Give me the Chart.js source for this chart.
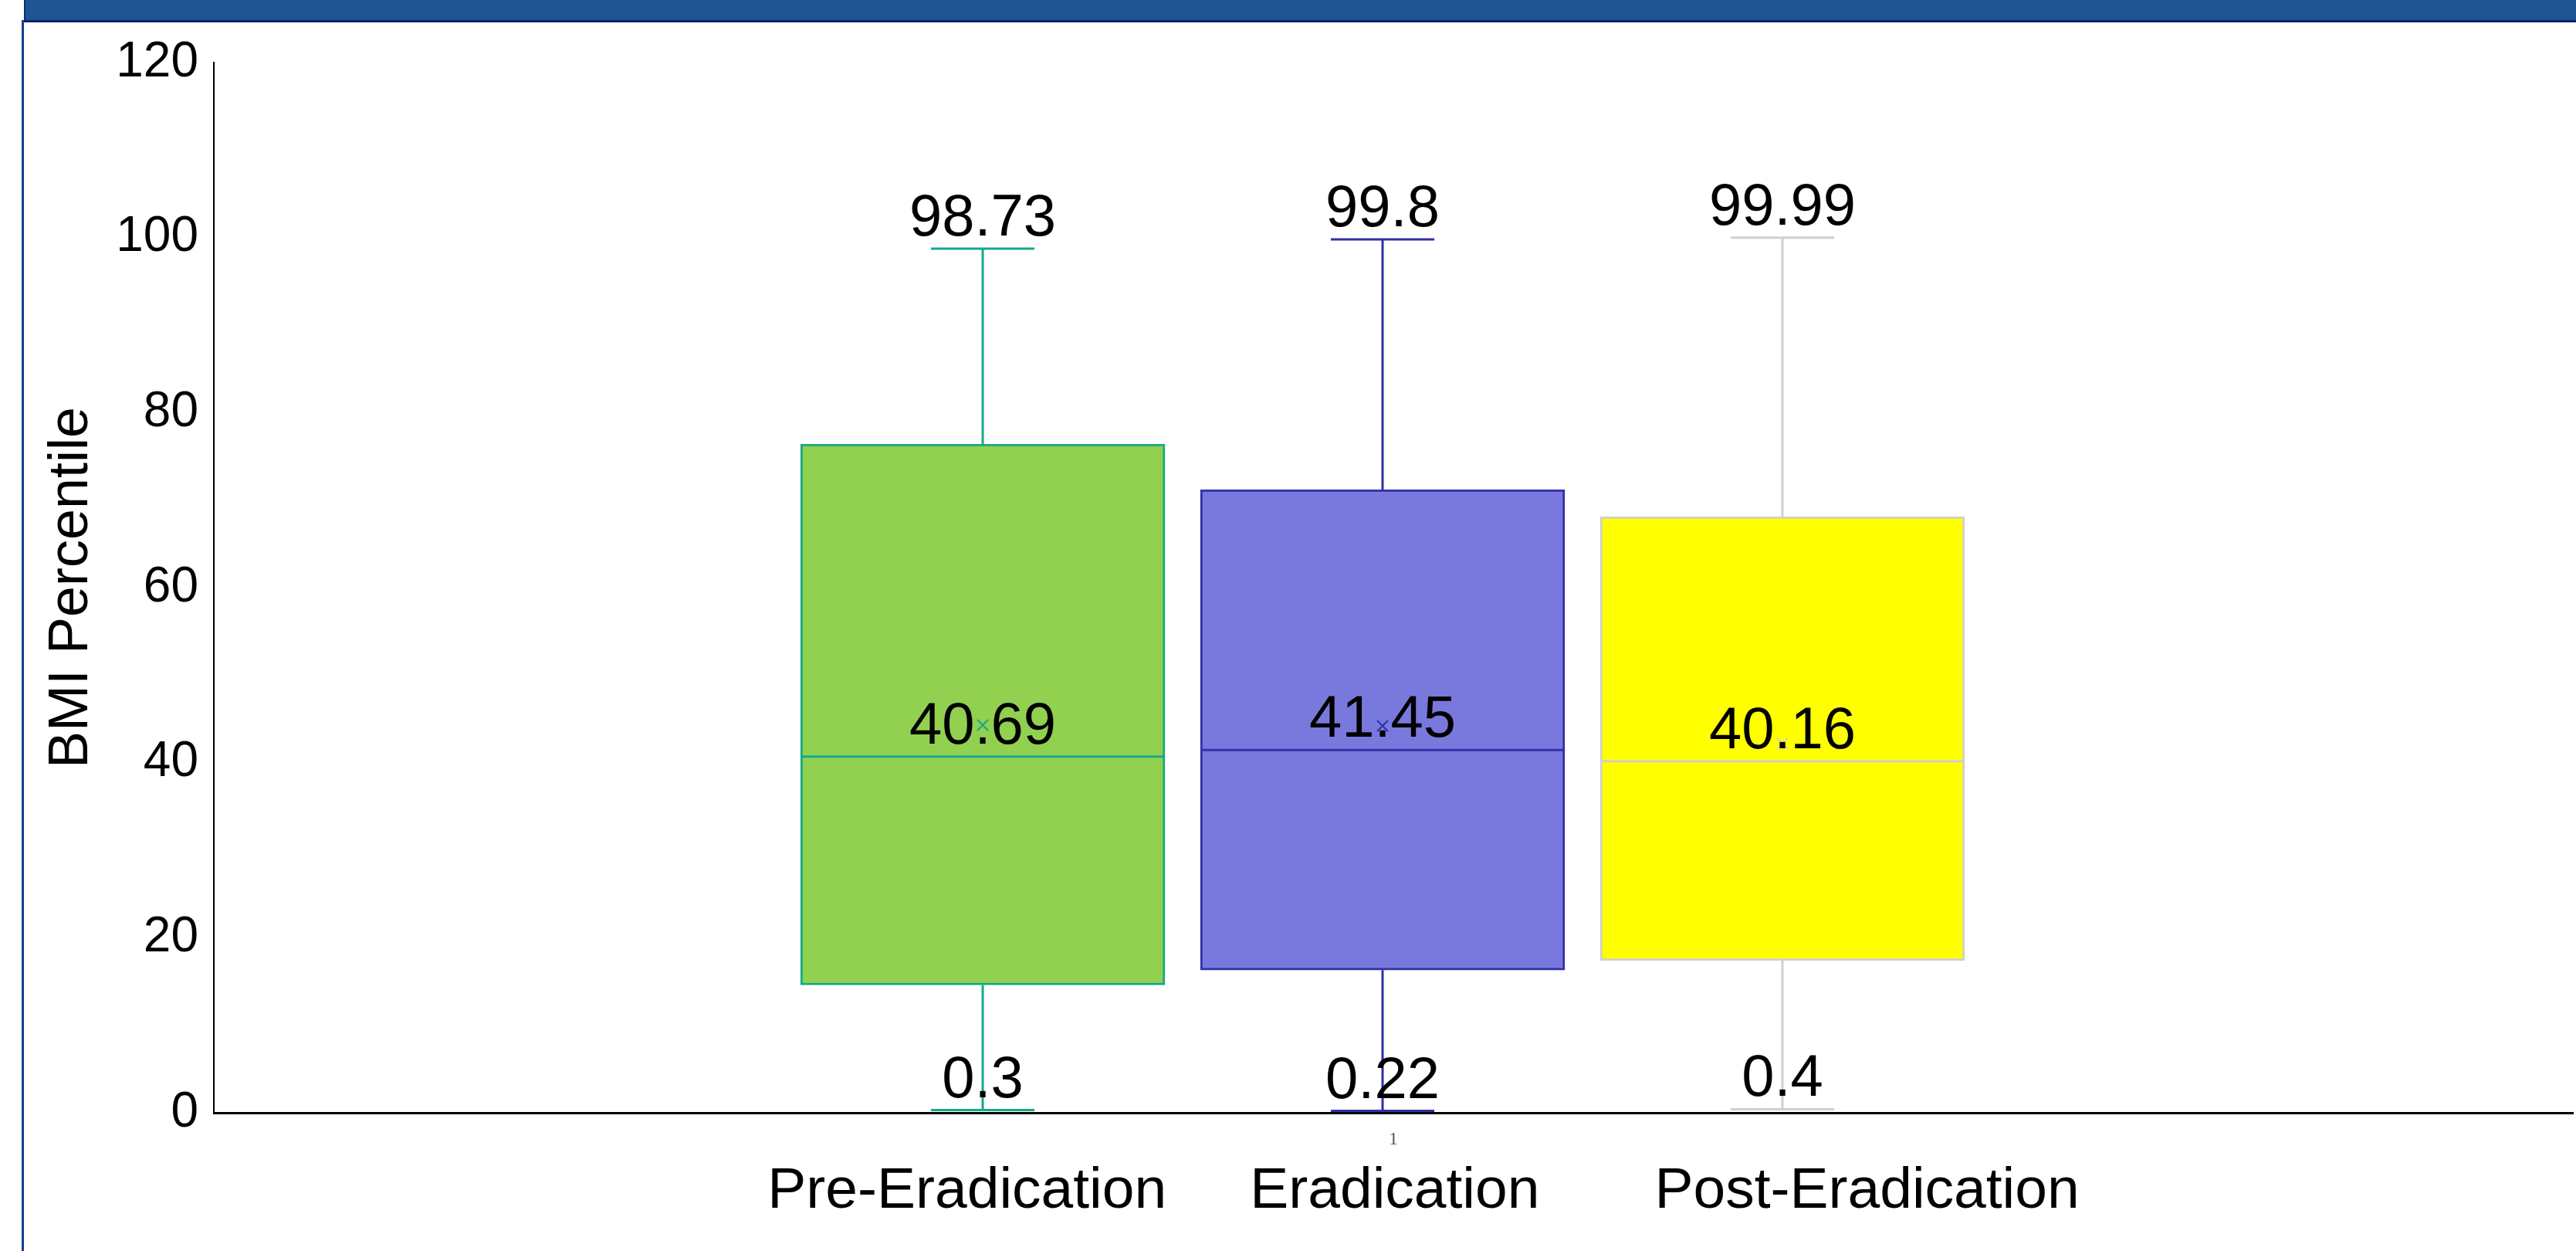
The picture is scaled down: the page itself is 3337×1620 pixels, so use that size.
<!DOCTYPE html>
<html>
<head>
<meta charset="utf-8">
<title>BMI Percentile</title>
<script src="https://cdn.jsdelivr.net/npm/chart.js@4.4.1/dist/chart.umd.min.js"></script>
<style>
  html, body { margin: 0; padding: 0; background: #ffffff; }
  #wrap { position: relative; width: 3337px; height: 1620px; overflow: hidden; background: #ffffff; }
  #chart { position: absolute; left: 0; top: 0; }
  .header { position: absolute; left: 31px; top: 0; width: 3306px; height: 26px; background: #1F5492; border-left: 2px solid #0E2C7A; }
  .header-rule { position: absolute; left: 28px; top: 26px; width: 3309px; height: 3px; background: #0B246C; }
  .side-rule { position: absolute; left: 28px; top: 26px; width: 3px; height: 1594px; background: #153C8C; }
</style>
</head>
<body>
<div id="wrap">
  <canvas id="chart" width="3337" height="1620"></canvas>
  <div class="header"></div>
  <div class="header-rule"></div>
  <div class="side-rule"></div>
</div>
<script>
// Series shown as box-and-whisker groups
const categories = ['Pre-Eradication', 'Eradication', 'Post-Eradication'];
const xLabels = ['1'];
const maxValues = [98.73, 99.8, 99.99];
const q3Values = [76.4, 71.2, 68.1];
const medianValues = [40.69, 41.45, 40.16];
const q1Values = [14.6, 16.3, 17.4];
const minValues = [0.3, 0.22, 0.4];
const meanValues = [44.3, 44.2, 42.2];
const yTicks = [0, 20, 40, 60, 80, 100, 120];

const fillColors = ['#92D050', '#7979DD', '#FFFF00'];
const lineColors = ['#13A98A', '#3030A8', '#CFCFCF'];

const FONT = "'Liberation Sans', Arial, sans-serif";

// Legend row under the axis: spacing after each entry and shift from the plot centre
const legendGaps = [108, 149];
const legendShift = 39;
const legendFontSize = 75;

// Whiskers, medians, mean markers and value labels on top of the floating bars
const boxPlotExtras = {
  id: 'boxPlotExtras',
  afterDatasetsDraw(chart) {
    const ctx = chart.ctx;
    const y = chart.scales.y;
    chart.data.datasets.forEach((ds, i) => {
      const meta = chart.getDatasetMeta(i);
      meta.data.forEach((bar) => {
        const cx = bar.x;
        const half = bar.width / 2;
        const capHalf = bar.width * 0.142;
        const pMax = y.getPixelForValue(maxValues[i]);
        const pQ3 = y.getPixelForValue(q3Values[i]);
        const pMed = y.getPixelForValue(medianValues[i]);
        const pQ1 = y.getPixelForValue(q1Values[i]);
        const pMin = y.getPixelForValue(minValues[i]);
        const pMean = y.getPixelForValue(meanValues[i]);

        ctx.save();
        ctx.strokeStyle = lineColors[i];
        ctx.lineWidth = 3;
        ctx.beginPath();
        // upper whisker and cap
        ctx.moveTo(cx, pQ3); ctx.lineTo(cx, pMax);
        ctx.moveTo(cx - capHalf, pMax); ctx.lineTo(cx + capHalf, pMax);
        // lower whisker and cap
        ctx.moveTo(cx, pQ1); ctx.lineTo(cx, pMin);
        ctx.moveTo(cx - capHalf, pMin); ctx.lineTo(cx + capHalf, pMin);
        // median
        ctx.moveTo(cx - half, pMed); ctx.lineTo(cx + half, pMed);
        ctx.stroke();

        // mean marker
        ctx.lineWidth = 2;
        const m = 7;
        ctx.beginPath();
        ctx.moveTo(cx - m, pMean - m); ctx.lineTo(cx + m, pMean + m);
        ctx.moveTo(cx + m, pMean - m); ctx.lineTo(cx - m, pMean + m);
        ctx.stroke();

        // value labels sit just above the value they state
        ctx.fillStyle = '#000000';
        ctx.font = '76px ' + FONT;
        ctx.textAlign = 'center';
        ctx.textBaseline = 'alphabetic';
        const gap = 17;
        ctx.fillText(String(maxValues[i]), cx, pMax - gap);
        ctx.fillText(String(medianValues[i]), cx, pMed - gap);
        ctx.fillText(String(minValues[i]), cx, pMin - gap);
        ctx.restore();
      });
    });
  }
};

// Series names written as a text-only row beneath the category axis
const textLegend = {
  id: 'textLegend',
  afterDraw(chart) {
    const ctx = chart.ctx;
    const area = chart.chartArea;
    const names = chart.data.datasets.map(ds => ds.label);
    ctx.save();
    ctx.font = legendFontSize + 'px ' + FONT;
    ctx.fillStyle = '#000000';
    ctx.textAlign = 'left';
    ctx.textBaseline = 'middle';
    const widths = names.map(n => ctx.measureText(n).width);
    const total = widths.reduce((a, b) => a + b, 0) + legendGaps.reduce((a, b) => a + b, 0);
    let x = (area.left + area.right) / 2 + legendShift - total / 2;
    const yText = chart.scales.x.bottom + 47;
    names.forEach((n, i) => {
      ctx.fillText(n, x, yText);
      x += widths[i] + (legendGaps[i] || 0);
    });
    ctx.restore();
  }
};

// each series sits in its own slot (-1, 0, 1) of the hidden group axis
const datasets = categories.map((name, i) => ({
  label: name,
  xAxisID: 'xb',
  data: [{ x: i - 1, y: [q1Values[i], q3Values[i]] }],
  backgroundColor: fillColors[i],
  borderColor: lineColors[i],
  borderWidth: 3,
  borderSkipped: false
}));

new Chart(document.getElementById('chart'), {
  type: 'bar',
  data: { labels: xLabels, datasets },
  plugins: [boxPlotExtras, textLegend],
  options: {
    responsive: false,
    devicePixelRatio: 1,
    animation: false,
    layout: { padding: { top: 81, right: 4, bottom: 124, left: 0 } },
    datasets: { bar: { grouped: false, barThickness: 472 } },
    scales: {
      // visible category axis carrying the single "1" label
      x: {
        type: 'category',
        offset: true,
        grid: { display: false, drawTicks: false },
        border: { display: true, color: '#000000', width: 3 },
        ticks: {
          color: '#595959',
          padding: 20,
          font: { family: "'Liberation Serif', 'Times New Roman', serif", size: 24 }
        },
        afterFit(scale) { scale.height = 55; }
      },
      // hidden axis that spaces the three boxes
      xb: {
        type: 'linear',
        display: false,
        offset: false,
        min: -2.923,
        max: 2.977
      },
      y: {
        min: 0,
        max: 120,
        afterBuildTicks(scale) { scale.ticks = yTicks.map(v => ({ value: v })); },
        grid: { display: false, drawTicks: false },
        border: { display: true, color: '#000000', width: 2 },
        ticks: {
          color: '#000000',
          padding: 20,
          font: { family: FONT, size: 64 }
        },
        title: {
          display: true,
          text: 'BMI Percentile',
          color: '#000000',
          font: { family: FONT, size: 72 },
          padding: { top: 50, bottom: 0 }
        },
        afterFit(scale) { scale.width = 277; }
      }
    },
    plugins: {
      tooltip: { enabled: false },
      legend: { display: false }
    }
  }
});
</script>
</body>
</html>
